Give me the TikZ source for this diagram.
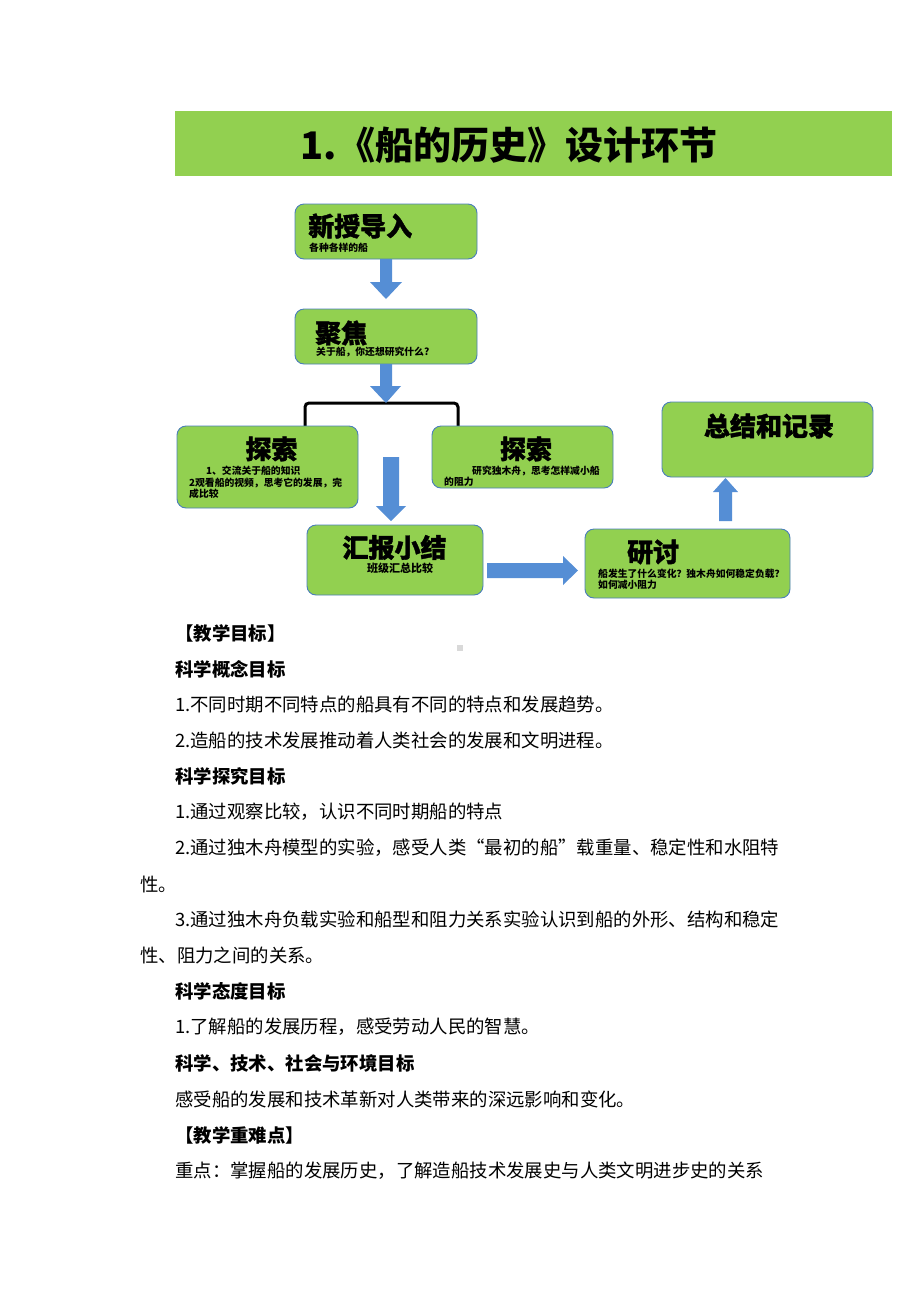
\documentclass[tikz,border=0pt]{standalone}
\usepackage{fontspec}
\newfontfamily\cjk{Noto Sans CJK SC}
\newfontfamily\cjkheavy{Noto Sans CJK SC}[BoldFeatures={FakeBold=1.5}]
\definecolor{boxgreen}{HTML}{92D050}
\definecolor{boxline}{HTML}{4A7EBB}
\definecolor{arrowblue}{HTML}{558ED5}
\definecolor{dotgray}{HTML}{D9D9D9}
\begin{document}
\begin{tikzpicture}[x=1pt,y=-1pt,
  box/.style={draw=boxline, line width=0.9pt, fill=boxgreen, rounded corners=9pt, inner sep=0pt},
  ttl/.style={font=\cjkheavy\bfseries\fontsize{26}{28}\selectfont, inner sep=0pt},
  sub/.style={font=\cjk\bfseries\fontsize{9.8}{11}\selectfont, inner sep=0pt, anchor=west},
  body/.style={font=\cjk\fontsize{18.4}{20}\selectfont, anchor=west, inner sep=0pt},
  head/.style={font=\cjk\bfseries\fontsize{18.4}{20}\selectfont, anchor=west, inner sep=0pt},
  arr/.style={fill=arrowblue, draw=none}]
\useasboundingbox (0,0) rectangle (920,1302);
\fill[white] (0,0) rectangle (920,1302);

% title bar
\node[fill=boxgreen, minimum width=717, minimum height=65, inner sep=0pt] (bar) at (533.5,143.5) {};
\node[font=\cjk\bfseries\fontsize{38}{40}\selectfont, inner sep=0pt] (title) at (509,145) {1.《船的历史》设计环节};

% bracket
\draw[line width=3pt, rounded corners=4pt] (305,428)--(305,403)--(458,403)--(458,428);

% boxes
\node[box, minimum width=182, minimum height=55] (b1) at (386,231.5) {};
\node[box, minimum width=182, minimum height=55] (b2) at (386,336.5) {};
\node[box, minimum width=181, minimum height=82] (b3) at (267.5,467) {};
\node[box, minimum width=181, minimum height=62] (b4) at (522.5,457) {};
\node[box, minimum width=176, minimum height=70] (b5) at (395,560) {};
\node[box, minimum width=205, minimum height=69] (b6) at (687.5,563.5) {};
\node[box, minimum width=211, minimum height=75] (b7) at (767.5,439.5) {};

% arrows
\fill[arr] (380,259)--(392,259)--(392,282)--(402,282)--(386,299)--(370,282)--(380,282)--cycle;
\fill[arr] (380,364)--(392,364)--(392,386)--(401,386)--(386,403)--(370,386)--(380,386)--cycle;
\fill[arr] (383,457)--(399,457)--(399,506)--(406,506)--(391,521)--(376,506)--(383,506)--cycle;
\fill[arr] (487,563)--(563,563)--(563,556)--(578,570.5)--(563,585)--(563,578)--(487,578)--cycle;
\fill[arr] (719,521)--(719,492)--(713,492)--(725.5,478)--(738,492)--(732,492)--(732,521)--cycle;

% box texts
\node[ttl, anchor=west] (t1) at (308,226) {新授导入};
\node[sub] (s1) at (309,248) {各种各样的船};
\node[ttl, anchor=west] (t2) at (315,333) {聚焦};
\node[sub] (s2) at (316,352) {关于船，你还想研究什么?};
\node[ttl] (t3) at (271.5,449) {探索};
\node[sub] (s3a) at (206,471) {1、交流关于船的知识};
\node[sub] (s3b) at (189,483) {2观看船的视频，思考它的发展，完};
\node[sub] (s3c) at (189,494) {成比较};
\node[ttl] (t4) at (526,449) {探索};
\node[sub] (s4a) at (472,471) {研究独木舟，思考怎样减小船};
\node[sub] (s4b) at (444,482) {的阻力};
\node[ttl] (t5) at (394.5,547.5) {汇报小结};
\node[sub, anchor=center, font=\cjk\bfseries\fontsize{11}{12}\selectfont] (s5) at (400,568) {班级汇总比较};
\node[ttl, anchor=west] (t6) at (627,552) {研讨};
\node[sub] (s6a) at (598,574) {船发生了什么变化？独木舟如何稳定负载？};
\node[sub] (s6b) at (598,585) {如何减小阻力};
\node[ttl] (t7) at (769,426) {总结和记录};

% small gray mark
\fill[dotgray] (457,645) rectangle (463,651);

% body text
\node[head] (h1) at (175,633) {【教学目标】};
\node[head] (h2) at (175,669) {科学概念目标};
\node[body] (l1) at (175,705) {1.不同时期不同特点的船具有不同的特点和发展趋势。};
\node[body] (l2) at (175,740) {2.造船的技术发展推动着人类社会的发展和文明进程。};
\node[head] (h3) at (175,776) {科学探究目标};
\node[body] (l3) at (175,812) {1.通过观察比较，认识不同时期船的特点};
\node[body] (l4) at (175,848) {2.通过独木舟模型的实验，感受人类“最初的船”载重量、稳定性和水阻特};
\node[body] (l5) at (140,884) {性。};
\node[body] (l6) at (175,919) {3.通过独木舟负载实验和船型和阻力关系实验认识到船的外形、结构和稳定};
\node[body] (l7) at (140,955) {性、阻力之间的关系。};
\node[head] (h4) at (175,991) {科学态度目标};
\node[body] (l8) at (175,1027) {1.了解船的发展历程，感受劳动人民的智慧。};
\node[head] (h5) at (175,1063) {科学、技术、社会与环境目标};
\node[body] (l9) at (175,1099) {感受船的发展和技术革新对人类带来的深远影响和变化。};
\node[head] (h6) at (175,1135) {【教学重难点】};
\node[body] (l10) at (175,1171) {重点：掌握船的发展历史，了解造船技术发展史与人类文明进步史的关系};
\end{tikzpicture}
\end{document}
